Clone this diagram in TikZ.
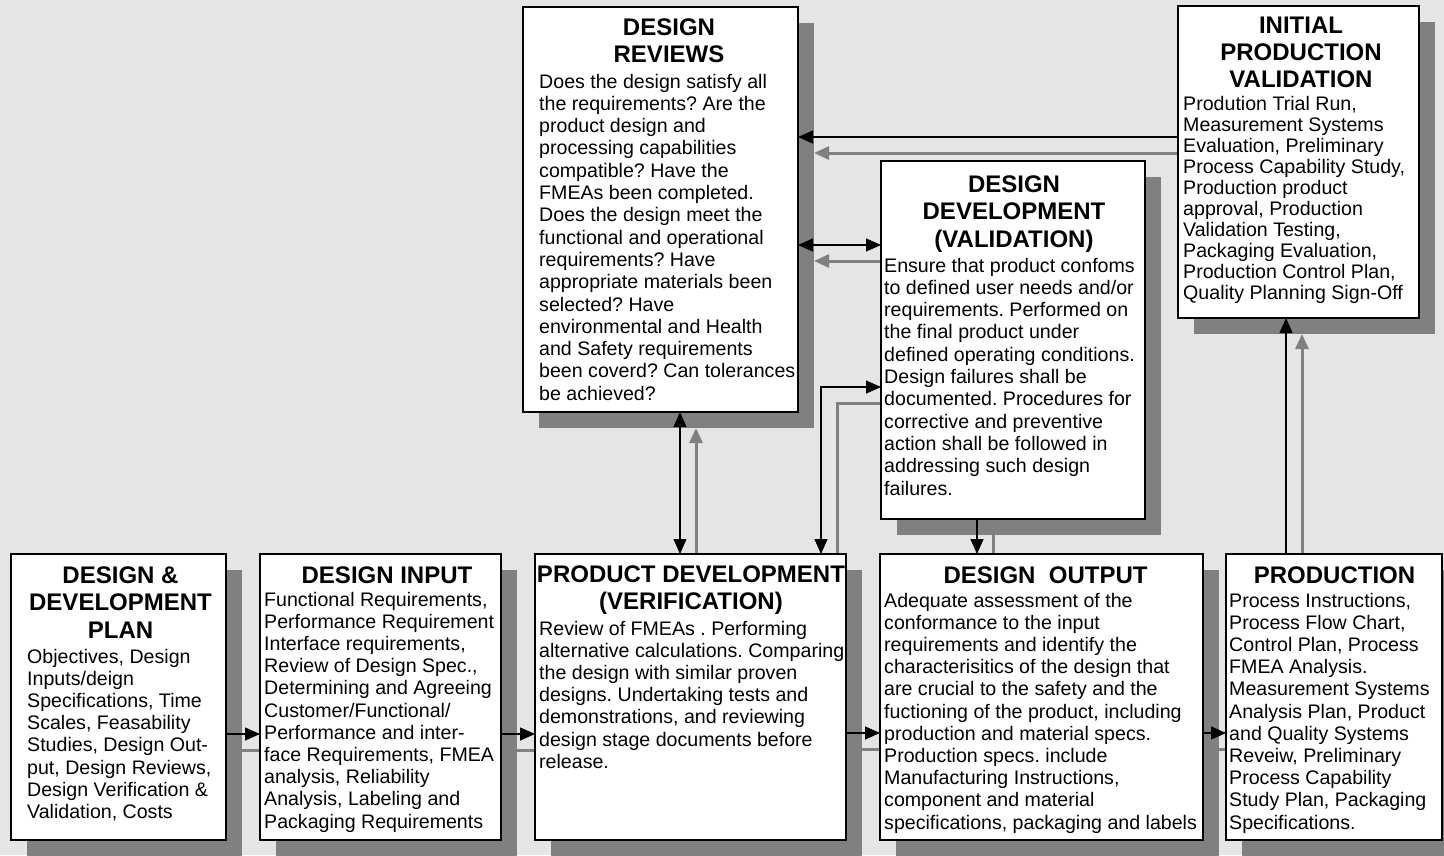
\documentclass[tikz,border=0pt]{standalone}
\usepackage{fontspec}
\setmainfont{Liberation Sans}
\usetikzlibrary{arrows.meta}
\pgfdeclarelayer{shadow}
\pgfdeclarelayer{lines}
\pgfsetlayers{shadow,lines,main}
\definecolor{bgc}{RGB}{229,229,229}
\definecolor{shc}{RGB}{128,128,128}
\frenchspacing
\newcommand\myconn[2][]{%
  \begin{pgfonlayer}{shadow}\draw[connsh,#1] #2;\end{pgfonlayer}%
  \begin{pgfonlayer}{lines}\draw[conn,#1] #2;\end{pgfonlayer}}
\begin{document}
\begin{tikzpicture}[x=1pt,y=-1pt,
  >={Triangle[length=15pt,width=13pt]},
  box/.style={draw=black, line width=1.5pt, fill=white, inner sep=0pt, outer sep=0pt, anchor=north west},
  ttl/.style={font=\fontsize{24}{27.5}\selectfont\bfseries, align=center, inner sep=0pt, anchor=base},
  txt/.style={font=\fontsize{19.6}{22.2}\selectfont, align=left, inner sep=0pt, anchor=base west},
  conn/.style={draw=black, line width=1.3pt},
  connsh/.style={draw=shc, line width=3pt, transform canvas={shift={(16pt,-16pt)}}},
]
\useasboundingbox (0,0) rectangle (1444,855);

% boxes
\node[box, minimum width=215pt, minimum height=286pt] (plan) at (11,554) {};
\node[box, minimum width=241pt, minimum height=286pt] (input) at (260,554) {};
\node[box, minimum width=311pt, minimum height=286pt] (pdev) at (535,554) {};
\node[box, minimum width=323pt, minimum height=286pt] (output) at (880,554) {};
\node[box, minimum width=216pt, minimum height=286pt] (prod) at (1226,554) {};
\node[box, minimum width=275pt, minimum height=405pt] (reviews) at (523,7) {};
\node[box, minimum width=264pt, minimum height=358pt] (dval) at (881,161) {};
\node[box, minimum width=241pt, minimum height=312pt] (ipv) at (1178,6) {};

% shadows
\begin{pgfonlayer}{shadow}
\fill[bgc] (0,0) rectangle (1444,855);
\foreach \n in {plan,input,pdev,output,prod,reviews,dval,ipv}
  \fill[shc] ([shift={(16pt,-16pt)}]\n.south west) rectangle ([shift={(16pt,-16pt)}]\n.north east);
\end{pgfonlayer}

% texts (anchor = baseline of the last line)
\node[ttl] (t1) at (120.5,638) {DESIGN \&\\DEVELOPMENT\\PLAN};
\node[txt] (b1) at (27,818.4) {Objectives, Design\\Inputs/deign\\Specifications, Time\\Scales, Feasability\\Studies, Design Out-\\put, Design Reviews,\\Design Verification \&\\Validation, Costs};

\node[ttl] (t2) at (387,583) {DESIGN INPUT};
\node[txt] (b2) at (264,828) {Functional Requirements,\\Performance Requirement\\Interface requirements,\\Review of Design Spec.,\\Determining and Agreeing\\Customer/Functional/\\Performance and inter-\\face Requirements, FMEA\\analysis, Reliability\\Analysis, Labeling and\\Packaging Requirements};

\node[ttl] (t3) at (691,609.5) {PRODUCT DEVELOPMENT\\(VERIFICATION)};
\node[txt] (b3) at (539,768.2) {Review of FMEAs . Performing\\alternative calculations. Comparing\\the design with similar proven\\designs. Undertaking tests and\\demonstrations, and reviewing\\design stage documents before\\release.};

\node[ttl] (t4) at (1045.5,583) {DESIGN\ \ OUTPUT};
\node[txt] (b4) at (884,829) {Adequate assessment of the\\conformance to the input\\requirements and identify the\\characterisitics of the design that\\are crucial to the safety and the\\fuctioning of the product, including\\production and material specs.\\Production specs. include\\Manufacturing Instructions,\\component and material\\specifications, packaging and labels};

\node[ttl] (t5) at (1334.5,583) {PRODUCTION};
\node[txt] (b5) at (1229,829) {Process Instructions,\\Process Flow Chart,\\Control Plan, Process\\FMEA Analysis.\\Measurement Systems\\Analysis Plan, Product\\and Quality Systems\\Reveiw, Preliminary\\Process Capability\\Study Plan, Packaging\\Specifications.};

\node[ttl] (t6) at (669,62.5) {DESIGN\\REVIEWS};
\node[txt, font=\fontsize{19.6}{22.3}\selectfont] (b6) at (539,400.2) {Does the design satisfy all\\the requirements? Are the\\product design and\\processing capabilities\\compatible? Have the\\FMEAs been completed.\\Does the design meet the\\functional and operational\\requirements? Have\\appropriate materials been\\selected? Have\\environmental and Health\\and Safety requirements\\been coverd? Can tolerances\\be achieved?};

\node[ttl] (t7) at (1014,247) {DESIGN\\DEVELOPMENT\\(VALIDATION)};
\node[txt, font=\fontsize{19.6}{22.3}\selectfont] (b7) at (884,495) {Ensure that product confoms\\to defined user needs and/or\\requirements. Performed on\\the final product under\\defined operating conditions.\\Design failures shall be\\documented. Procedures for\\corrective and preventive\\action shall be followed in\\addressing such design\\failures.};

\node[ttl, font=\fontsize{24}{27}\selectfont\bfseries] (t8) at (1301,87) {INITIAL\\PRODUCTION\\VALIDATION};
\node[txt, font=\fontsize{19.6}{21}\selectfont] (b8) at (1183,299) {Prodution Trial Run,\\Measurement Systems\\Evaluation, Preliminary\\Process Capability Study,\\Production product\\approval, Production\\Validation Testing,\\Packaging Evaluation,\\Production Control Plan,\\Quality Planning Sign-Off};

% connectors
\myconn[->]{([yshift=-180pt]plan.north east) -- ([yshift=-180pt]input.north west)}
\myconn[->]{([yshift=-180pt]input.north east) -- ([yshift=-180pt]pdev.north west)}
\myconn[->]{([yshift=-179pt]pdev.north east) -- ([yshift=-179pt]output.north west)}
\myconn[->]{([yshift=-179pt]output.north east) -- ([yshift=-179pt]prod.north west)}
\coordinate (p1) at ([xshift=60pt]prod.north west);
\myconn[->]{(p1) -- (p1 |- ipv.south)}
\coordinate (p2) at ([yshift=-131pt]ipv.north west);
\myconn[->]{(p2) -- (p2 -| reviews.east)}
\coordinate (p3) at ([yshift=-84pt]dval.north west);
\myconn[<->]{(p3 -| reviews.east) -- (p3)}
\coordinate (p4) at ([xshift=145pt]pdev.north west);
\myconn[<->]{(p4 |- reviews.south) -- (p4)}
\coordinate (p5) at ([xshift=-25pt]pdev.north east);
\coordinate (p6) at ([yshift=-226pt]dval.north west);
\myconn[<->]{(p6) -| (p5)}
\coordinate (p7) at ([xshift=96pt]dval.south west);
\myconn[->]{(p7) -- (p7 |- output.north)}
\end{tikzpicture}
\end{document}
